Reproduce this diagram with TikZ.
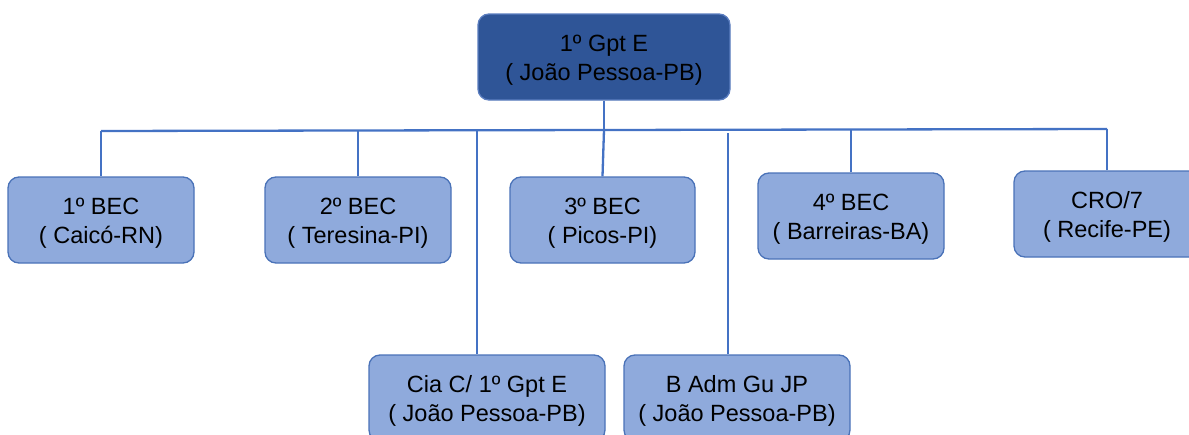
\documentclass[tikz,border=0pt]{standalone}
\usepackage{fontspec}
\setmainfont{Liberation Sans}
\definecolor{topfill}{HTML}{2F5597}
\definecolor{topedge}{HTML}{5B7DBF}
\definecolor{boxfill}{HTML}{8FAADC}
\definecolor{boxedge}{HTML}{4A72B8}
\definecolor{linec}{HTML}{4472C4}
\newcommand{\lowerstrut}{\rule{0pt}{23pt}}
\begin{document}
\begin{tikzpicture}[x=1pt,y=-1pt,
  unit/.style={draw=boxedge, fill=boxfill, line width=1.3pt, rounded corners=11pt,
    align=center, inner sep=0pt, minimum height=86pt,
    font=\fontsize{23.5}{28.5}\selectfont, text=black},
  topunit/.style={unit, fill=topfill, draw=topedge},
  link/.style={draw=linec, line width=2.3pt}]
\useasboundingbox (0,0) rectangle (1189,434);
\clip (0,0) rectangle (1189,434);
% nodes
\node[topunit, minimum width=252pt] (top) at (604,57) {\lowerstrut 1º Gpt E\\( João Pessoa-PB)};
\node[unit, minimum width=186pt] (b1) at (101,220) {\lowerstrut 1º BEC\\( Caicó-RN)};
\node[unit, minimum width=186pt] (b2) at (358,220) {\lowerstrut 2º BEC\\( Teresina-PI)};
\node[unit, minimum width=185pt] (b3) at (602.5,220) {\lowerstrut 3º BEC\\( Picos-PI)};
\node[unit, minimum width=186pt] (b4) at (851,216) {\lowerstrut 4º BEC\\( Barreiras-BA)};
\node[unit, minimum width=186pt] (b5) at (1107,214) {\lowerstrut CRO/7\\( Recife-PE)};
\node[unit, minimum width=236pt] (cia) at (487,398) {\lowerstrut Cia C/ 1º Gpt E\\( João Pessoa-PB)};
\node[unit, minimum width=226pt] (badm) at (737,398) {\lowerstrut B Adm Gu JP\\( João Pessoa-PB)};
% bus coordinates
\coordinate (busL) at (101,131);
\coordinate (busR) at (1107,129);
\coordinate (busT) at (604,130);
\coordinate (jc) at (477,130);
\coordinate (jb) at (728,133);
% connectors
\draw[link] (busL) -- (busR);
\draw[link] (top.south) -- (busT);
\draw[link] (busT) -- (b3.north);
\draw[link] (b1.north) -- (busL);
\draw[link] (b2.north) -- (b2.north |- busT);
\draw[link] (b4.north) -- (b4.north |- busT);
\draw[link] (b5.north) -- (busR);
\draw[link] (jc) -- (jc |- cia.north);
\draw[link] (jb) -- (jb |- badm.north);
\end{tikzpicture}
\end{document}
